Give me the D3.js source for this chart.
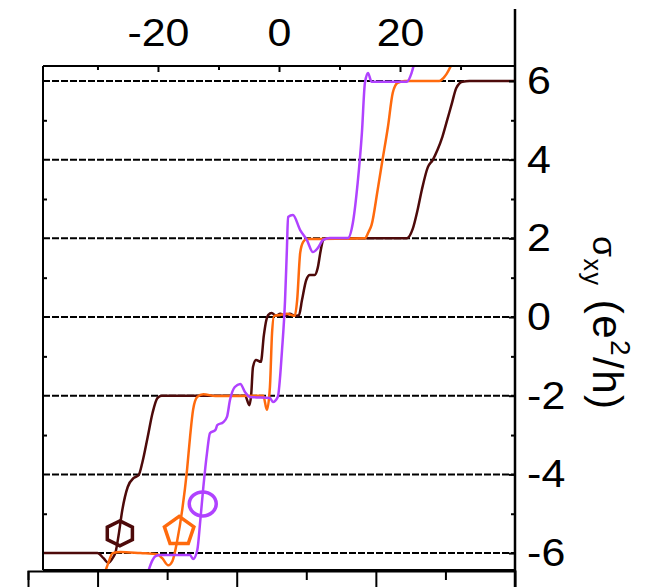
<!DOCTYPE html>
<html>
<head>
<meta charset="utf-8">
<script src="https://cdn.jsdelivr.net/npm/d3@7"></script>
<style>
  body { margin: 0; background: #fff; }
  svg text { font-family: "Liberation Sans", Arial, sans-serif; }
</style>
</head>
<body>
<div id="chart"></div>
<script>
// plateau levels (dashed lines) and axis ticks
const levels = [-6, -4, -2, 0, 2, 4, 6];
const yMinor = [-5, -3, -1, 1, 3, 5];
const xMajor = [-20, 0, 20];
const xMinor = [-30, -10, 10, 30];
const bottomMajor = [-20, 0, 20];
const bottomMinor = [-30, -10, 10, 30];

// purple trace
const purpleX = [-21.6, -20.9, -20.4, -19.6, -14.7, -14.2, -13.5, -13.0, -12.5, -11.9, -11.4, -10.5, -10.2, -9.2, -8.6, -8.1, -7.3, -6.4, -5.6, -4.8, -1.5, -1.0, -0.2, 0.5, 1.0, 1.3, 1.5, 2.3, 3.5, 4.6, 5.6, 6.4, 7.3, 8.4, 11.4, 12.2, 13.0, 13.7, 14.2, 14.7, 15.3, 16.3, 21.1, 21.9, 22.4];
const purpleY = [-6.46, -6.18, -6.08, -6.05, -6.05, -6.15, -5.92, -5.16, -4.32, -3.46, -2.95, -2.87, -2.75, -2.67, -2.54, -2.11, -1.78, -1.70, -1.91, -2.03, -2.06, -2.16, -2.03, -0.84, 0.43, 1.70, 2.54, 2.59, 2.21, 1.96, 1.65, 1.75, 1.96, 2.01, 2.01, 2.39, 3.41, 4.68, 5.95, 6.2, 5.98, 5.98, 5.98, 6.2, 6.48];

// orange trace
const orangeX = [-28.7, -28.2, -27.5, -26.2, -22.9, -20.1, -19.3, -18.3, -17.6, -16.8, -16.0, -15.2, -14.7, -14.2, -13.5, -12.5, -10.5, -2.6, -2.0, -1.5, -1.15, -0.8, 0.2, 1.3, 2.6, 3.0, 3.5, 4.0, 4.6, 14.2, 14.8, 15.3, 16.3, 17.1, 18.0, 18.8, 19.6, 20.8, 26.5, 27.2, 27.7, 28.7];
const orangeY = [-6.46, -6.25, -6.0, -5.97, -6.0, -6.03, -6.13, -6.31, -6.2, -5.67, -4.91, -3.89, -3.05, -2.36, -2.03, -1.96, -2.01, -2.0, -2.36, -1.78, -0.41, 0.03, 0.05, 0.08, 0.03, 0.43, 1.63, 1.91, 1.98, 2.0, 2.16, 2.34, 3.23, 3.99, 4.83, 5.7, 5.95, 6.0, 6.0, 6.08, 6.18, 6.48];

// dark brown trace
const brownX = [-39, -30, -29, -28.2, -27.5, -27, -26.5, -25.9, -25, -24, -23.2, -22.6, -21.7, -20.9, -20.1, -19.4, -5.6, -4.9, -4.6, -4.3, -3.8, -3, -2.5, -2.1, -1.8, -1.2, -0.5, 0.2, 1, 1.8, 2.6, 3.3, 3.8, 4.5, 5.1, 5.9, 6.4, 6.9, 7.3, 7.7, 8.4, 21.1, 22.1, 22.9, 23.6, 24.6, 25.4, 26.2, 27, 27.8, 28.5, 29.3, 30.3, 31.5, 39];
const brownY = [-6, -6, -6.13, -6.25, -6.13, -5.97, -5.54, -4.91, -4.32, -4.09, -4.02, -3.71, -3.05, -2.44, -2.06, -2, -2, -2.24, -1.98, -1.27, -1.09, -1.14, -0.46, -0.08, 0.05, 0.1, 0.03, 0.08, 0.03, 0.08, 0.03, 0.05, 0.43, 0.94, 1.07, 1.07, 1.25, 1.7, 1.96, 2.0, 2.0, 2.0, 2.24, 2.72, 3.23, 3.81, 3.99, 4.25, 4.58, 5.01, 5.39, 5.82, 5.98, 6.0, 6.0];

// symbol markers: [x, y]
const hexMark = [-26.3, -5.5];
const pentMark = [-16.5, -5.45];
const circMark = [-12.6, -4.75];

const W = 655, H = 587;
const box = { left: 43, right: 515, top: 66, bottom: 570 };

const svg = d3.select("#chart")
    .append("svg")
    .attr("width", W)
    .attr("height", H);

const x = d3.scaleLinear().domain([-39, 39]).range([box.left, box.right]);
const y = d3.scaleLinear().domain([-6.43, 6.38]).range([box.bottom, box.top]);
// second panel below (only its top edge shows)
const xb = d3.scaleLinear().domain([-30, 40]).range([28, 515]);

const fmt = d => String(d);

// dashed plateau lines
svg.append("g")
    .selectAll("line")
    .data(levels)
    .join("line")
    .attr("x1", box.left).attr("x2", box.right)
    .attr("y1", d => y(d)).attr("y2", d => y(d))
    .attr("stroke", "#000")
    .attr("stroke-width", 2)
    .attr("stroke-dasharray", "7,2");

// curves
svg.append("clipPath").attr("id", "clip")
    .append("rect")
    .attr("x", box.left).attr("y", box.top)
    .attr("width", box.right - box.left).attr("height", box.bottom - box.top);

const line = d3.line()
    .x(d => x(d[0]))
    .y(d => y(d[1]))
    .curve(d3.curveMonotoneX);

const series = [
    { xs: brownX, ys: brownY, color: "#4d0a0a" },
    { xs: orangeX, ys: orangeY, color: "#ff6a0d" },
    { xs: purpleX, ys: purpleY, color: "#b042ff" }
];

svg.append("g")
    .attr("clip-path", "url(#clip)")
    .selectAll("path")
    .data(series)
    .join("path")
    .attr("d", s => line(s.xs.map((v, i) => [v, s.ys[i]])))
    .attr("fill", "none")
    .attr("stroke", s => s.color)
    .attr("stroke-width", 2.5);

// markers
function polygon(cx, cy, n, rx, ry) {
    const pts = [];
    for (let k = 0; k < n; k++) {
        const a = -Math.PI / 2 + k * 2 * Math.PI / n;
        pts.push([cx + rx * Math.cos(a), cy + ry * Math.sin(a)]);
    }
    return "M" + pts.map(p => p.join(",")).join("L") + "Z";
}

svg.append("path")
    .attr("d", polygon(x(hexMark[0]), y(hexMark[1]), 6, 14.5, 12.5))
    .attr("fill", "none").attr("stroke", "#4d0a0a").attr("stroke-width", 3.5);
svg.append("path")
    .attr("d", polygon(x(pentMark[0]), y(pentMark[1]), 5, 15.5, 15))
    .attr("fill", "none").attr("stroke", "#ff6a0d").attr("stroke-width", 3.5);
svg.append("ellipse")
    .attr("cx", x(circMark[0])).attr("cy", y(circMark[1]))
    .attr("rx", 13.5).attr("ry", 12)
    .attr("fill", "none").attr("stroke", "#b042ff").attr("stroke-width", 3.5);

// frame
const frame = svg.append("g").attr("stroke", "#000").attr("stroke-width", 2);
frame.append("line").attr("x1", box.left).attr("x2", box.right).attr("y1", box.top).attr("y2", box.top);
frame.append("line").attr("x1", box.left).attr("x2", box.left).attr("y1", box.top).attr("y2", box.bottom);
frame.append("line").attr("x1", box.left).attr("x2", box.right).attr("y1", box.bottom).attr("y2", box.bottom);

// top axis, ticks pointing into the plot
const topAxis = svg.append("g")
    .attr("transform", `translate(0,${box.top})`)
    .call(d3.axisTop(x).tickValues(xMajor).tickSizeInner(-6).tickSizeOuter(0).tickPadding(20).tickFormat(fmt));
topAxis.select(".domain").remove();
topAxis.selectAll("line").attr("stroke-width", 2);
topAxis.selectAll("text")
    .attr("font-size", 39)
    .attr("fill", "#000")
    .attr("transform", "scale(1.1,1)");

svg.append("g")
    .attr("transform", `translate(0,${box.top})`)
    .call(d3.axisTop(x).tickValues(xMinor).tickSize(-4).tickFormat(""))
    .call(g => g.select(".domain").remove())
    .selectAll("line").attr("stroke-width", 2);

// left axis minor ticks
svg.append("g")
    .attr("transform", `translate(${box.left},0)`)
    .call(d3.axisLeft(y).tickValues(yMinor).tickSize(-4).tickFormat(""))
    .call(g => g.select(".domain").remove())
    .selectAll("line").attr("stroke-width", 2);

// right axis
const rightAxis = svg.append("g")
    .attr("transform", `translate(${box.right},0)`)
    .call(d3.axisRight(y).tickValues(levels).tickSizeInner(-6).tickSizeOuter(0).tickPadding(11).tickFormat(fmt));
rightAxis.select(".domain").remove();
rightAxis.selectAll("line").attr("stroke-width", 2);
rightAxis.selectAll("text")
    .attr("font-size", 39)
    .attr("fill", "#000")
    .attr("transform", "scale(1.1,1)");

svg.append("g")
    .attr("transform", `translate(${box.right},0)`)
    .call(d3.axisRight(y).tickValues(yMinor).tickSize(-4).tickFormat(""))
    .call(g => g.select(".domain").remove())
    .selectAll("line").attr("stroke-width", 2);

svg.append("line")
    .attr("x1", box.right).attr("x2", box.right)
    .attr("y1", 9).attr("y2", H)
    .attr("stroke", "#000").attr("stroke-width", 2.5);

// top edge of the panel below
const lower = svg.append("g")
    .attr("transform", `translate(0,${box.bottom + 1})`);
lower.call(d3.axisBottom(xb).tickValues(bottomMajor).tickSize(20).tickFormat(""));
lower.append("g")
    .call(d3.axisBottom(xb).tickValues(bottomMinor).tickSize(9).tickFormat(""))
    .call(g => g.select(".domain").remove());
lower.selectAll("path.domain").attr("stroke-width", 2);
lower.selectAll("line").attr("stroke-width", 2);

// y axis title
const title = svg.append("text")
    .attr("transform", "translate(593,236) rotate(90)")
    .attr("font-size", 42)
    .attr("letter-spacing", 1.5)
    .attr("fill", "#000");
title.append("tspan").attr("font-size", 34).text("σ");
title.append("tspan").attr("font-size", 25).attr("dy", 9).text("xy");
title.append("tspan").attr("dy", -9).text(" (e");
title.append("tspan").attr("font-size", 28).attr("dy", -18).text("2");
title.append("tspan").attr("dy", 18).text("/h)");
</script>
</body>
</html>
